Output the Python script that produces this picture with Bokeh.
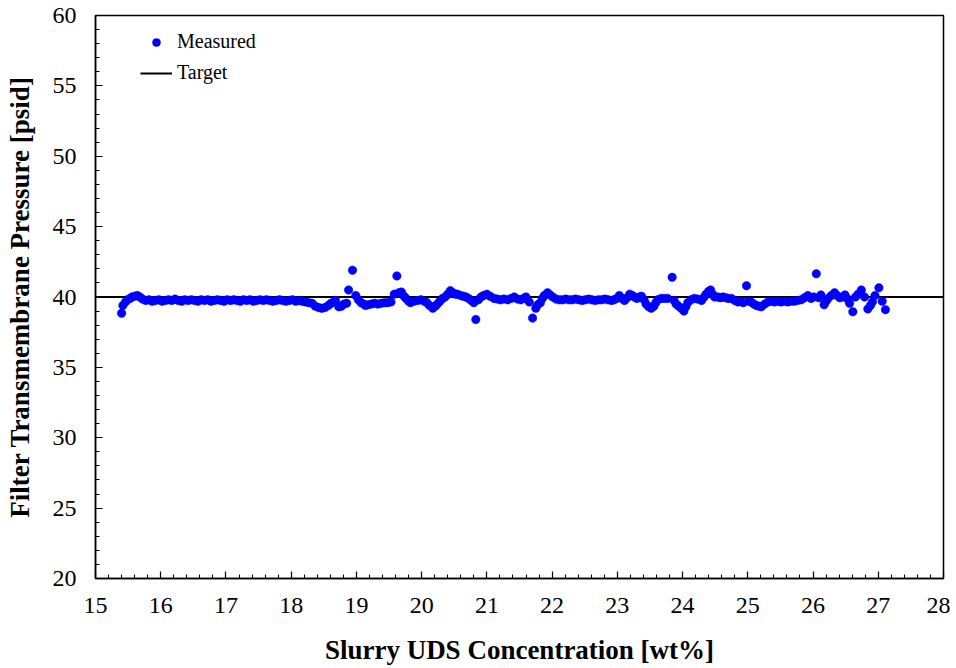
from bokeh.plotting import figure
from bokeh.models import Legend, LegendItem, SingleIntervalTicker
from bokeh.embed import file_html
from bokeh.resources import INLINE

# Measured data: slurry UDS concentration [wt%] vs filter TMP [psid]
uds = [15.40, 15.42, 15.46, 15.49, 15.53, 15.56, 15.60, 15.64, 15.68, 15.72,
       15.77, 15.82, 15.87, 15.92, 15.97, 16.02, 16.07, 16.12, 16.17, 16.22,
       16.27, 16.32, 16.37, 16.42, 16.47, 16.52, 16.57, 16.62, 16.67, 16.72,
       16.77, 16.82, 16.87, 16.92, 16.97, 17.02, 17.07, 17.12, 17.17, 17.22,
       17.27, 17.32, 17.37, 17.42, 17.47, 17.52, 17.57, 17.62, 17.67, 17.72,
       17.77, 17.82, 17.87, 17.92, 17.97, 18.02, 18.07, 18.12, 18.17, 18.22,
       18.27, 18.32, 18.37, 18.42, 18.47, 18.52, 18.57, 18.61, 18.65, 18.68,
       18.73, 18.77, 18.81, 18.85, 18.88, 18.94, 18.99, 19.03, 19.07, 19.11,
       19.14, 19.18, 19.23, 19.28, 19.33, 19.38, 19.43, 19.48, 19.53, 19.58,
       19.62, 19.65, 19.69, 19.73, 19.76, 19.80, 19.83, 19.88, 19.94, 19.99,
       20.04, 20.08, 20.12, 20.17, 20.21, 20.24, 20.28, 20.32, 20.36, 20.40,
       20.44, 20.48, 20.52, 20.55, 20.60, 20.64, 20.68, 20.72, 20.76, 20.80,
       20.83, 20.87, 20.91, 20.95, 21.00, 21.05, 21.11, 21.16, 21.21, 21.26,
       21.32, 21.37, 21.42, 21.47, 21.52, 21.56, 21.60, 21.65, 21.70, 21.75,
       21.78, 21.82, 21.85, 21.88, 21.93, 21.97, 22.01, 22.06, 22.11, 22.16,
       22.21, 22.26, 22.31, 22.36, 22.41, 22.46, 22.51, 22.56, 22.61, 22.66,
       22.71, 22.76, 22.81, 22.86, 22.91, 22.95, 22.99, 23.03, 23.07, 23.11,
       23.15, 23.19, 23.23, 23.26, 23.30, 23.34, 23.37, 23.41, 23.44, 23.48,
       23.52, 23.56, 23.59, 23.62, 23.67, 23.72, 23.77, 23.84, 23.87, 23.90,
       23.94, 23.98, 24.02, 24.05, 24.08, 24.13, 24.18, 24.23, 24.29, 24.33,
       24.36, 24.40, 24.43, 24.46, 24.49, 24.54, 24.58, 24.62, 24.66, 24.70,
       24.75, 24.80, 24.85, 24.89, 24.93, 24.98, 25.01, 25.05, 25.09, 25.13,
       25.17, 25.21, 25.26, 25.31, 25.36, 25.41, 25.46, 25.51, 25.56, 25.61,
       25.66, 25.71, 25.76, 25.82, 25.87, 25.92, 25.97, 26.01, 26.05, 26.09,
       26.12, 26.17, 26.20, 26.23, 26.28, 26.33, 26.37, 26.41, 26.45, 26.49,
       26.53, 26.56, 26.61, 26.65, 26.69, 26.74, 26.79, 26.84, 26.88, 26.91,
       26.95, 27.01, 27.06, 27.11]

tmp = [38.85, 39.40, 39.65, 39.80, 39.90, 40.00, 40.05, 40.10, 40.00, 39.85,
       39.75, 39.80, 39.70, 39.75, 39.80, 39.70, 39.75, 39.80, 39.75, 39.85,
       39.75, 39.70, 39.80, 39.75, 39.80, 39.75, 39.70, 39.80, 39.75, 39.80,
       39.70, 39.75, 39.80, 39.75, 39.70, 39.80, 39.75, 39.80, 39.75, 39.70,
       39.80, 39.75, 39.80, 39.70, 39.75, 39.80, 39.75, 39.80, 39.75, 39.70,
       39.75, 39.80, 39.75, 39.70, 39.75, 39.80, 39.70, 39.75, 39.70, 39.65,
       39.60, 39.55, 39.35, 39.25, 39.20, 39.25, 39.40, 39.55, 39.65, 39.75,
       39.30, 39.35, 39.50, 39.55, 40.50, 41.90, 40.10, 39.80, 39.60, 39.50,
       39.40, 39.45, 39.50, 39.55, 39.50, 39.55, 39.60, 39.60, 39.65, 40.20,
       41.50, 40.30, 40.35, 40.05, 39.90, 39.70, 39.60, 39.70, 39.75, 39.80,
       39.70, 39.60, 39.40, 39.20, 39.35, 39.50, 39.70, 39.90, 40.00, 40.20,
       40.45, 40.30, 40.20, 40.20, 40.10, 40.05, 40.00, 39.90, 39.75, 39.60,
       38.40, 39.80, 40.00, 40.10, 40.20, 40.05, 39.90, 39.85, 39.80, 39.85,
       39.80, 39.90, 40.00, 39.85, 39.80, 39.90, 40.00, 39.65, 38.50, 39.20,
       39.45, 39.60, 39.90, 40.10, 40.30, 40.15, 40.00, 39.85, 39.80, 39.80,
       39.85, 39.80, 39.80, 39.85, 39.80, 39.75, 39.80, 39.85, 39.80, 39.75,
       39.80, 39.80, 39.85, 39.80, 39.75, 39.80, 39.90, 40.10, 39.90, 39.75,
       39.95, 40.20, 40.10, 40.00, 39.90, 40.00, 40.05, 39.80, 39.50, 39.30,
       39.20, 39.35, 39.60, 39.80, 39.90, 39.90, 39.90, 41.40, 39.75, 39.50,
       39.35, 39.20, 39.00, 39.30, 39.60, 39.80, 39.90, 39.85, 39.75, 40.00,
       40.20, 40.40, 40.50, 40.20, 40.00, 40.00, 39.95, 40.00, 39.95, 39.90,
       39.90, 39.75, 39.65, 39.70, 39.60, 40.80, 39.70, 39.65, 39.50, 39.40,
       39.35, 39.30, 39.50, 39.65, 39.70, 39.65, 39.70, 39.65, 39.70, 39.65,
       39.70, 39.70, 39.75, 39.80, 39.95, 40.10, 39.90, 40.00, 41.65, 39.95,
       40.15, 39.45, 39.70, 39.90, 40.10, 40.30, 40.10, 39.95, 40.00, 40.15,
       39.85, 39.55, 38.95, 40.00, 40.20, 40.50, 40.00, 39.15, 39.40, 39.65,
       40.10, 40.65, 39.70, 39.10]

# Target line
target_x = [15, 28]
target_y = [40, 40]

FONT = "Liberation Serif"

p = figure(width=950, height=668, x_range=(15, 28), y_range=(20, 60),
           output_backend="svg", toolbar_location=None,
           min_border_left=95, min_border_top=15, min_border_right=7,
           min_border_bottom=90)
p.background_fill_color = "white"
p.border_fill_color = "white"
p.grid.visible = False
p.outline_line_color = "black"
p.outline_line_width = 1.5

t = p.line(target_x, target_y, line_color="black", line_width=2.2)
m = p.scatter(uds, tmp, size=8.5, fill_color="#0000ff", line_color="#0000ff",
              line_width=0.5)

p.xaxis.ticker = SingleIntervalTicker(interval=1, num_minor_ticks=5)
p.yaxis.ticker = SingleIntervalTicker(interval=5, num_minor_ticks=5)

for ax in (p.xaxis[0], p.yaxis[0]):
    ax.axis_line_color = "black"
    ax.axis_line_width = 1.5
    ax.major_tick_in = 7
    ax.major_tick_out = 0
    ax.minor_tick_in = 4
    ax.minor_tick_out = 0
    ax.major_tick_line_color = "black"
    ax.minor_tick_line_color = "black"
    ax.major_tick_line_width = 1.2
    ax.minor_tick_line_width = 1
    ax.major_label_text_font = FONT
    ax.major_label_text_font_size = "24px"
    ax.major_label_text_color = "black"
    ax.axis_label_text_font = FONT
    ax.axis_label_text_font_size = "27px"
    ax.axis_label_text_font_style = "bold"
    ax.axis_label_text_color = "black"

p.xaxis.axis_label = "Slurry UDS Concentration [wt%]"
p.yaxis.axis_label = "Filter Transmembrane Pressure [psid]"
p.xaxis.major_label_standoff = 19
p.yaxis.major_label_standoff = 19
p.xaxis.axis_label_standoff = 19
p.yaxis.axis_label_standoff = 15

legend = Legend(items=[LegendItem(label="Measured", renderers=[m]),
                       LegendItem(label="Target", renderers=[t])],
                location=(45, 494))
legend.border_line_color = None
legend.background_fill_alpha = 0
legend.padding = 0
legend.margin = 0
legend.spacing = 8
legend.glyph_width = 32
legend.glyph_height = 20
legend.label_height = 20
legend.label_standoff = 5
legend.label_text_font = FONT
legend.label_text_font_size = "20px"
legend.label_text_color = "black"
p.add_layout(legend, "center")

open("out.html", "w").write(file_html(p, INLINE))
